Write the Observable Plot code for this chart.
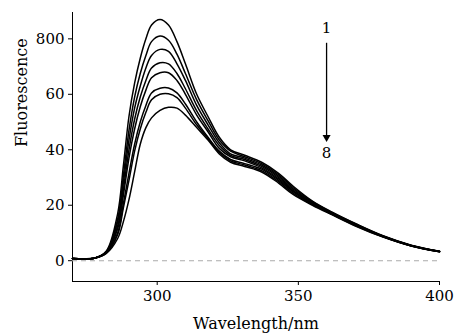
<!DOCTYPE html>
<html><head><meta charset="utf-8">
<script src="https://cdn.jsdelivr.net/npm/d3@7"></script>
<script src="https://cdn.jsdelivr.net/npm/@observablehq/plot@0.6"></script>
<style>body{margin:0;background:#fff}</style>
</head><body><div id="chart"></div>
<script>
// Wavelength grid (nm)
const wavelengths = [270, 278, 282, 286, 288, 290, 292, 294, 296, 298, 301, 304, 307, 310, 314, 318, 322, 326, 331, 337, 343, 348, 355, 362, 370, 380, 390, 400];
// Fluorescence curves 1..8 (top to bottom)
const curve1 = [0.8, 1.0, 3.5, 17, 34, 52, 64, 73, 80, 85, 87, 85, 79, 71, 60, 52, 44.5, 40, 38, 35.5, 31.5, 27, 21.5, 17.5, 13.5, 9, 5.6, 3.4];
const curve2 = [0.8, 1.0, 3.3, 15, 30.5, 47, 59, 67.5, 74, 79, 81, 79.5, 74.5, 67.5, 58, 50.5, 43.5, 39.5, 37.5, 35, 31, 26.5, 21.3, 17.3, 13.4, 8.9, 5.5, 3.4];
const curve3 = [0.8, 1.0, 3.2, 14, 28, 43.5, 55, 63, 69.5, 74, 76.2, 75.5, 71, 65, 56, 49, 42.5, 38.5, 37, 34.5, 30.5, 26, 21, 17.1, 13.2, 8.8, 5.5, 3.3];
const curve4 = [0.8, 1.0, 3.1, 12.5, 25.5, 40, 51, 59, 65, 69.5, 71.4, 71, 67.5, 62, 54, 47.5, 41.5, 38, 36.5, 34, 30, 25.5, 20.8, 17, 13.1, 8.8, 5.4, 3.3];
const curve5 = [0.8, 1.0, 3.0, 11.5, 23.5, 37, 47.5, 55.5, 61.5, 66, 67.8, 67.8, 65, 60, 52.5, 46.5, 40.5, 37.5, 36, 33.5, 29.5, 25.2, 20.6, 16.9, 13, 8.7, 5.4, 3.3];
const curve6 = [0.8, 1.0, 2.9, 10, 20.5, 31.5, 42, 50, 56, 60.5, 62.2, 62.3, 60.5, 56.5, 50, 44.5, 39.5, 36.5, 35, 33, 29, 25, 20.4, 16.8, 12.9, 8.7, 5.4, 3.3];
const curve7 = [0.8, 1.0, 2.8, 9.5, 19, 29, 39.5, 47.5, 53.5, 58, 60, 60.2, 58.8, 55, 49, 44, 39, 36, 34.5, 32.5, 28.5, 24.5, 20.2, 16.7, 12.8, 8.6, 5.3, 3.2];
const curve8 = [0.8, 1.0, 2.6, 8, 14, 22, 32, 42, 48, 51.5, 54.2, 55.3, 55, 52.5, 48, 43.5, 38.5, 35.5, 34, 32, 28, 24, 20, 16.5, 12.6, 8.5, 5.3, 3.2];
const seriesNames = ["1", "2", "3", "4", "5", "6", "7", "8"];

const xTickValues = [300, 350, 400];
const yTickValues = [0, 20, 40, 60, 80];
const yTickLabels = ["0", "20", "40", "60", "800"];
const xTitle = "Wavelength/nm";
const yTitle = "Fluorescence";

// annotation: arrow from series 1 to series 8
const annoLabels = [{label: "1", x: 360, y: 83.7}, {label: "8", x: 360, y: 38.7}];
const arrowSpec = {x: 360, yStart: 78.4, yEnd: 44.5};

const curves = [curve1, curve2, curve3, curve4, curve5, curve6, curve7, curve8];
const data = [];
curves.forEach((c, i) => c.forEach((v, j) => data.push({wl: wavelengths[j], f: v, s: seriesNames[i]})));

const chart = Plot.plot({
  width: 456, height: 333,
  marginLeft: 72, marginRight: 17, marginTop: 12, marginBottom: 52,
  style: {fontFamily: "DejaVu Serif", fontSize: "15px", background: "#fff", color: "#000"},
  x: {domain: [270, 400], ticks: xTickValues, line: true, tickSize: 4, tickPadding: 5, label: null},
  y: {domain: [-7.5, 89.5], ticks: yTickValues, tickFormat: d => yTickLabels[yTickValues.indexOf(d)], line: true, tickSize: 4, tickPadding: 4, label: null},
  marks: [
    Plot.ruleY([0], {x1: 270, x2: 400, stroke: "#aaa", strokeDasharray: "5,4", strokeWidth: 1.1}),
    Plot.line(data, {x: "wl", y: "f", z: "s", stroke: "#000", strokeWidth: 1.5, curve: "catmull-rom"}),
    Plot.ruleX([arrowSpec], {x: "x", y1: "yStart", y2: "yEnd", stroke: "#000", strokeWidth: 1.3}),
    Plot.dot([arrowSpec], {x: "x", y: "yEnd", symbol: "triangle", r: 3, fill: "#000", stroke: "none", rotate: 180}),
    Plot.text(annoLabels, {x: "x", y: "y", text: "label", fontSize: 15, fill: "#000"}),
    Plot.text([xTitle], {frameAnchor: "bottom", lineAnchor: "middle", dy: 42, fontSize: 16, fill: "#000"}),
    Plot.text([yTitle], {frameAnchor: "left", dx: -51, rotate: -90, fontSize: 16, fill: "#000"})
  ]
});
document.getElementById("chart").appendChild(chart);
</script>
</body></html>
